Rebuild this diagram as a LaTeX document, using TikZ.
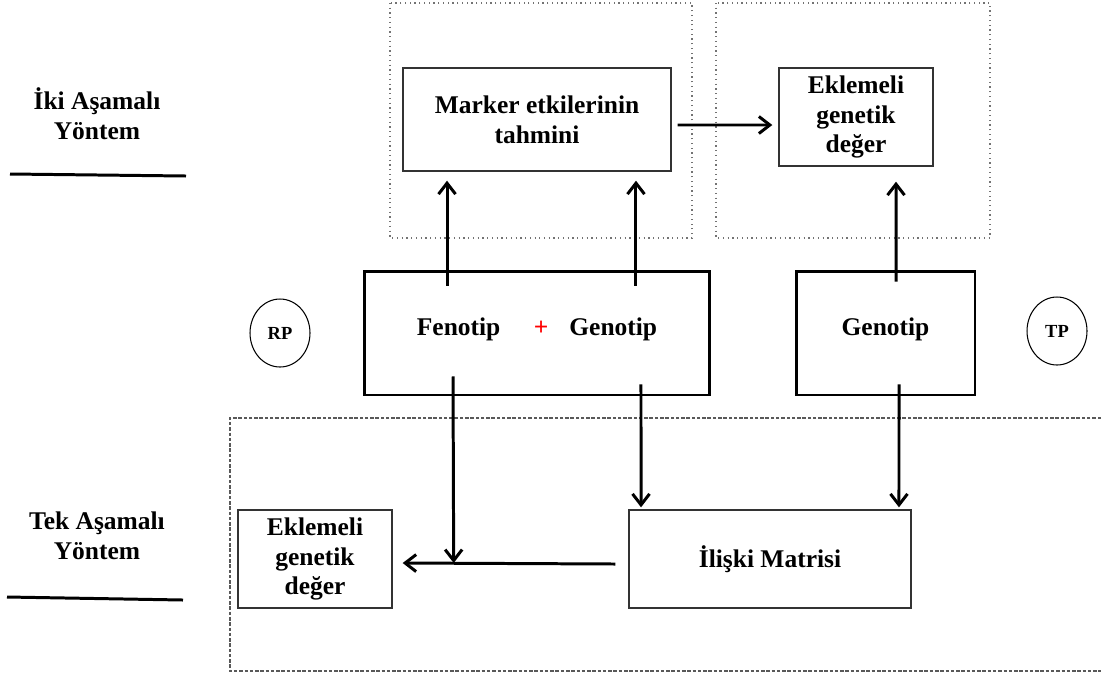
\documentclass[tikz,border=0pt]{standalone}
\usepackage{fontspec}
\setmainfont{Liberation Serif}
\usepackage{xcolor}
\usetikzlibrary{positioning,arrows.meta,calc,shapes.geometric}

\begin{document}
\begin{tikzpicture}[
    x=0.02cm, y=-0.02cm,
    font=\fontsize{14.5}{17}\selectfont\bfseries,
    box/.style={draw=black!80, line width=0.8pt, align=center, inner sep=2pt},
    thickbox/.style={draw, line width=1.7pt, align=center},
    circ/.style={draw, ellipse, line width=0.6pt, minimum width=1.2cm, minimum height=1.36cm, inner sep=0pt, font=\fontsize{10.5}{12}\selectfont\bfseries},
    arr/.style={-{Straight Barb[length=2.2mm,width=3.4mm]}, line width=1.7pt},
    zone/.style={draw=black!55, dotted, line width=0.7pt},
    zonedash/.style={draw=black!65, dash pattern=on 2pt off 1pt, line width=0.7pt},
]
\useasboundingbox (0,0) rectangle (1101,677);

% method groups
\draw[zone] (390,3) rectangle (692,238);
\draw[zone] (716,3) rectangle (990,238);
\draw[zonedash] (1101,418) -- (230,418) -- (230,671) -- (1101,671);

% left labels
\node[align=center] (iki) at (97,114) {İki Aşamalı\\Yöntem};
\node[align=center] (tek) at (97,536) {Tek Aşamalı\\Yöntem};
\draw[line width=1.7pt] (10,174) -- (186,176);
\draw[line width=1.7pt] (7,597) -- (183,600);

% two-step
\node[box, minimum width=5.36cm, minimum height=2.06cm] (marker) at (537,119.5) {Marker etkilerinin\\tahmini};
\node[box, minimum width=3.08cm, minimum height=1.96cm] (ekl1) at (856,117) {Eklemeli\\genetik\\değer};

% inputs
\node[thickbox, minimum width=6.92cm, minimum height=2.48cm] (fg) at (537,333) {\raisebox{6.8pt}{Fenotip\hspace{19pt}\textcolor{red}{+}\hspace{12pt}Genotip}};
\node[thickbox, minimum width=3.58cm, minimum height=2.48cm] (geno) at (885.5,333) {\raisebox{6.8pt}{Genotip}};
\node[circ] (rp) at (280,333) {RP};
\node[circ] (tp) at (1057,331) {TP};

% one-step
\node[box, minimum width=3.08cm, minimum height=1.96cm] (ekl2) at (315,559) {Eklemeli\\genetik\\değer};
\node[box, minimum width=5.64cm, minimum height=1.96cm] (mat) at (770,559) {İlişki Matrisi};

\draw[arr] ([xshift=0.12cm,yshift=-0.11cm]marker.east) -- ([xshift=-0.12cm,yshift=-0.16cm]ekl1.west);
\draw[arr] ([xshift=-1.8cm,yshift=-0.32cm]fg.north) -- ([xshift=-1.8cm,yshift=-0.18cm]marker.south);
\draw[arr] ([xshift=1.98cm,yshift=-0.32cm]fg.north) -- ([xshift=1.98cm,yshift=-0.18cm]marker.south);
\draw[arr] ([xshift=0.21cm,yshift=-0.24cm]geno.north) -- ([xshift=0.8cm,yshift=-0.3cm]ekl1.south);

\draw[arr] ([xshift=-1.68cm,yshift=0.4cm]fg.south) -- ([xshift=1.22cm,yshift=-0.08cm]ekl2.east);
\draw[arr] ([xshift=2.08cm,yshift=0.24cm]fg.south) -- ([xshift=-2.58cm,yshift=0.04cm]mat.north);
\draw[arr] ([xshift=0.27cm,yshift=0.24cm]geno.south) -- ([xshift=2.58cm,yshift=0.04cm]mat.north);
\draw[arr] ([xshift=-0.26cm,yshift=-0.1cm]mat.west) -- ([xshift=0.2cm,yshift=-0.08cm]ekl2.east);
\end{tikzpicture}
\end{document}
